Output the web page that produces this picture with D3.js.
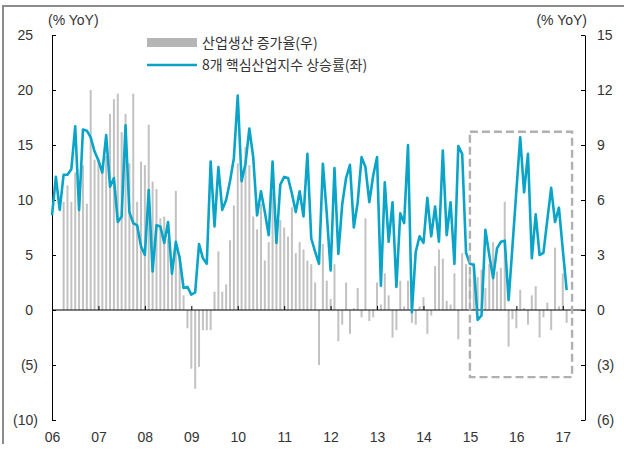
<!DOCTYPE html>
<html><head><meta charset="utf-8">
<script src="https://cdn.jsdelivr.net/npm/d3@7"></script>
<style>
body{margin:0;background:#fff;}
text{font-family:"Liberation Sans","Noto Sans CJK KR",Arial,sans-serif;fill:#333;}
.kr{font-family:"Noto Sans CJK KR","Liberation Sans",sans-serif;}
</style></head>
<body><svg id="c" width="624" height="452"></svg>
<script>
// Monthly data starting Jan 2006 (month index 0)
const startYear = 2006;
// 8 core industries index growth (left axis), Jan 2006 - Feb 2017
const coreGrowth = [8.6,12.1,9.1,12.3,12.3,12.8,16.7,9.1,16.4,16.3,15.7,14.4,
13.6,12.5,15.9,11.2,12.0,8.0,8.5,16.8,8.9,7.9,7.7,5.8,
5.0,10.9,3.5,7.7,7.6,6.1,8.0,3.3,6.2,4.7,2.0,2.1,
1.4,1.6,6.0,4.7,4.2,13.5,7.6,13.0,9.1,10.0,11.7,13.8,
19.5,11.7,13.3,16.5,13.9,8.6,10.8,8.9,6.8,13.5,6.1,11.4,
12.1,12.0,10.6,8.9,10.8,8.5,14.2,6.5,5.3,4.2,13.3,8.8,
3.6,12.9,5.1,9.6,12.0,13.2,7.5,9.8,13.9,13.0,9.8,12.2,
13.9,2.2,11.6,6.2,9.8,2.1,8.8,7.9,15.0,-0.2,5.3,6.7,
6.1,10.2,6.7,9.4,6.2,14.5,6.8,9.8,4.2,14.9,14.2,5.2,
4.2,4.1,-0.9,-0.5,7.3,5.0,2.9,5.6,6.2,6.3,0.9,5.8,
10.8,15.7,10.7,14.2,4.7,8.7,5.0,5.2,8.2,11.1,8.0,9.3,
5.5,1.8];
// Industrial production growth (right axis), Apr 2006 - Feb 2017
const ipStart = 3;
const ipGrowth = [5.9,6.8,5.9,7.5,6.3,7.9,5.8,12.0,8.2,
8.3,7.5,8.4,10.7,11.5,11.8,9.7,10.7,8.0,11.8,5.9,8.1,
7.9,10.1,7.0,6.6,5.0,5.1,3.9,2.4,6.5,3.0,0.8,-1.0,
-3.2,-4.3,-3.1,-1.1,-1.1,-1.1,1.0,3.2,1.0,1.4,3.8,5.7,
8.0,7.2,8.9,7.9,5.1,4.4,5.8,2.7,3.7,6.4,4.8,4.9,
4.5,4.0,5.6,3.1,3.7,3.3,2.7,2.5,1.5,-3.0,3.6,1.6,
0.6,2.5,-1.7,-0.8,1.5,-1.3,0.1,1.2,-0.4,5.0,-0.6,-0.4,
1.5,0.3,2.0,0.8,-1.5,-1.1,1.6,0.2,1.6,-0.7,-0.8,0.2,
0.7,-1.3,-0.3,2.4,3.3,2.8,0.5,0.3,2.0,-1.6,3.1,2.5,
1.9,2.6,1.8,2.2,1.2,2.5,3.7,2.1,2.3,5.9,-2.0,-0.5,
-1.0,1.1,0.1,-0.8,0.8,1.3,-1.5,-0.4,0.4,-1.1,3.4,0.2,
2.0,-0.7];
const yearLabels = ["06","07","08","09","10","11","12","13","14","15","16","17"];
const leftTicks = [25,20,15,10,5,0,-5,-10];
const rightTicks = [15,12,9,6,3,0,-3,-6];
const legendLabels = ["산업생산 증가율(우)","8개 핵심산업지수 상승률(좌)"];
const unitLabel = "(% YoY)";
// highlight box: from Jan 2015 to Mar 2017, left-axis values 16.2 to -6.1
const boxRange = {x0: 2015.0, x1: 2017.2, y0: 16.2, y1: -6.1};

const svg = d3.select("#c");
const L = 52, R = 585, T = 35, B = 420;
const x = d3.scaleLinear().domain([2006, 2017.5]).range([L, R + 1]);
const yL = d3.scaleLinear().domain([-10, 25]).range([B, T]);
const yR = d3.scaleLinear().domain([-6, 15]).range([B, T]);
const mx = m => x(startYear + m / 12);
const fmt = v => v < 0 ? "(" + Math.abs(v) + ")" : String(v);

// outer frame
svg.append("path").attr("d", "M3,444V6H624").attr("fill","none").attr("stroke","#8c8c8c").attr("stroke-width",2);

// bars
svg.append("g").selectAll("rect").data(ipGrowth).join("rect")
  .attr("x", (d,i) => mx(i + ipStart) - 1)
  .attr("width", 2)
  .attr("y", d => Math.min(yR(d), yR(0)))
  .attr("height", d => Math.abs(yR(d) - yR(0)))
  .attr("fill", "#c2c2c2");

// axes
const gL = svg.append("g").attr("transform", `translate(${L},0)`)
  .call(d3.axisLeft(yL).tickValues(leftTicks).tickSize(-4).tickSizeOuter(0).tickPadding(14).tickFormat(fmt));
gL.selectAll("text").attr("dx", d => d >= 0 ? -5 : 0);
const gR = svg.append("g").attr("transform", `translate(${R},0)`)
  .call(d3.axisRight(yR).tickValues(rightTicks).tickSize(-4).tickSizeOuter(0).tickPadding(12).tickFormat(fmt));
[gL, gR].forEach(g => {
  g.selectAll("text").style("font-size","14px").attr("fill","#333");
  g.selectAll("path,line").attr("stroke","#000");
});

// zero line with year ticks
const years = yearLabels.map((d,i) => startYear + i);
const gZ = svg.append("g").attr("transform", `translate(0,${yL(0)})`)
  .call(d3.axisBottom(x).tickValues(years).tickSize(-4).tickSizeOuter(0).tickFormat(""));
gZ.selectAll("path,line").attr("stroke","#000");
gZ.select("path").attr("d", `M${L},0H${R}`);
const gX = svg.append("g").attr("transform", `translate(0,${B})`)
  .call(d3.axisBottom(x).tickValues(years).tickSize(0).tickPadding(12).tickFormat((d,i) => yearLabels[i]));
gX.select("path").remove();
gX.selectAll("text").style("font-size","14px").attr("fill","#333");

// line
svg.append("path").datum(coreGrowth)
  .attr("d", d3.line().x((d,i) => mx(i)).y(d => yL(d)))
  .attr("fill","none").attr("stroke","#0aa4c8").attr("stroke-width",2.6).attr("stroke-linejoin","round");

// dashed box
svg.append("rect")
  .attr("x", x(boxRange.x0)).attr("y", yL(boxRange.y0))
  .attr("width", x(boxRange.x1) - x(boxRange.x0))
  .attr("height", yL(boxRange.y1) - yL(boxRange.y0))
  .attr("fill","none").attr("stroke","#b0b0b0").attr("stroke-width",2.4).attr("stroke-dasharray","8,4");

// unit labels
svg.append("text").attr("x", 48).attr("y", 25).text(unitLabel).style("font-size","14px");
svg.append("text").attr("x", 587).attr("y", 25).attr("text-anchor","end").text(unitLabel).style("font-size","14px");

// legend
svg.append("rect").attr("x",147).attr("y",38).attr("width",50).attr("height",9).attr("fill","#b5b5b5");
svg.append("text").attr("class","kr").attr("x",202).attr("y",48).text(legendLabels[0]).style("font-size","14px");
svg.append("line").attr("x1",147).attr("x2",197).attr("y1",65).attr("y2",65).attr("stroke","#0aa4c8").attr("stroke-width",2.6);
svg.append("text").attr("class","kr").attr("x",202).attr("y",70).text(legendLabels[1]).style("font-size","14px");
</script></body></html>
